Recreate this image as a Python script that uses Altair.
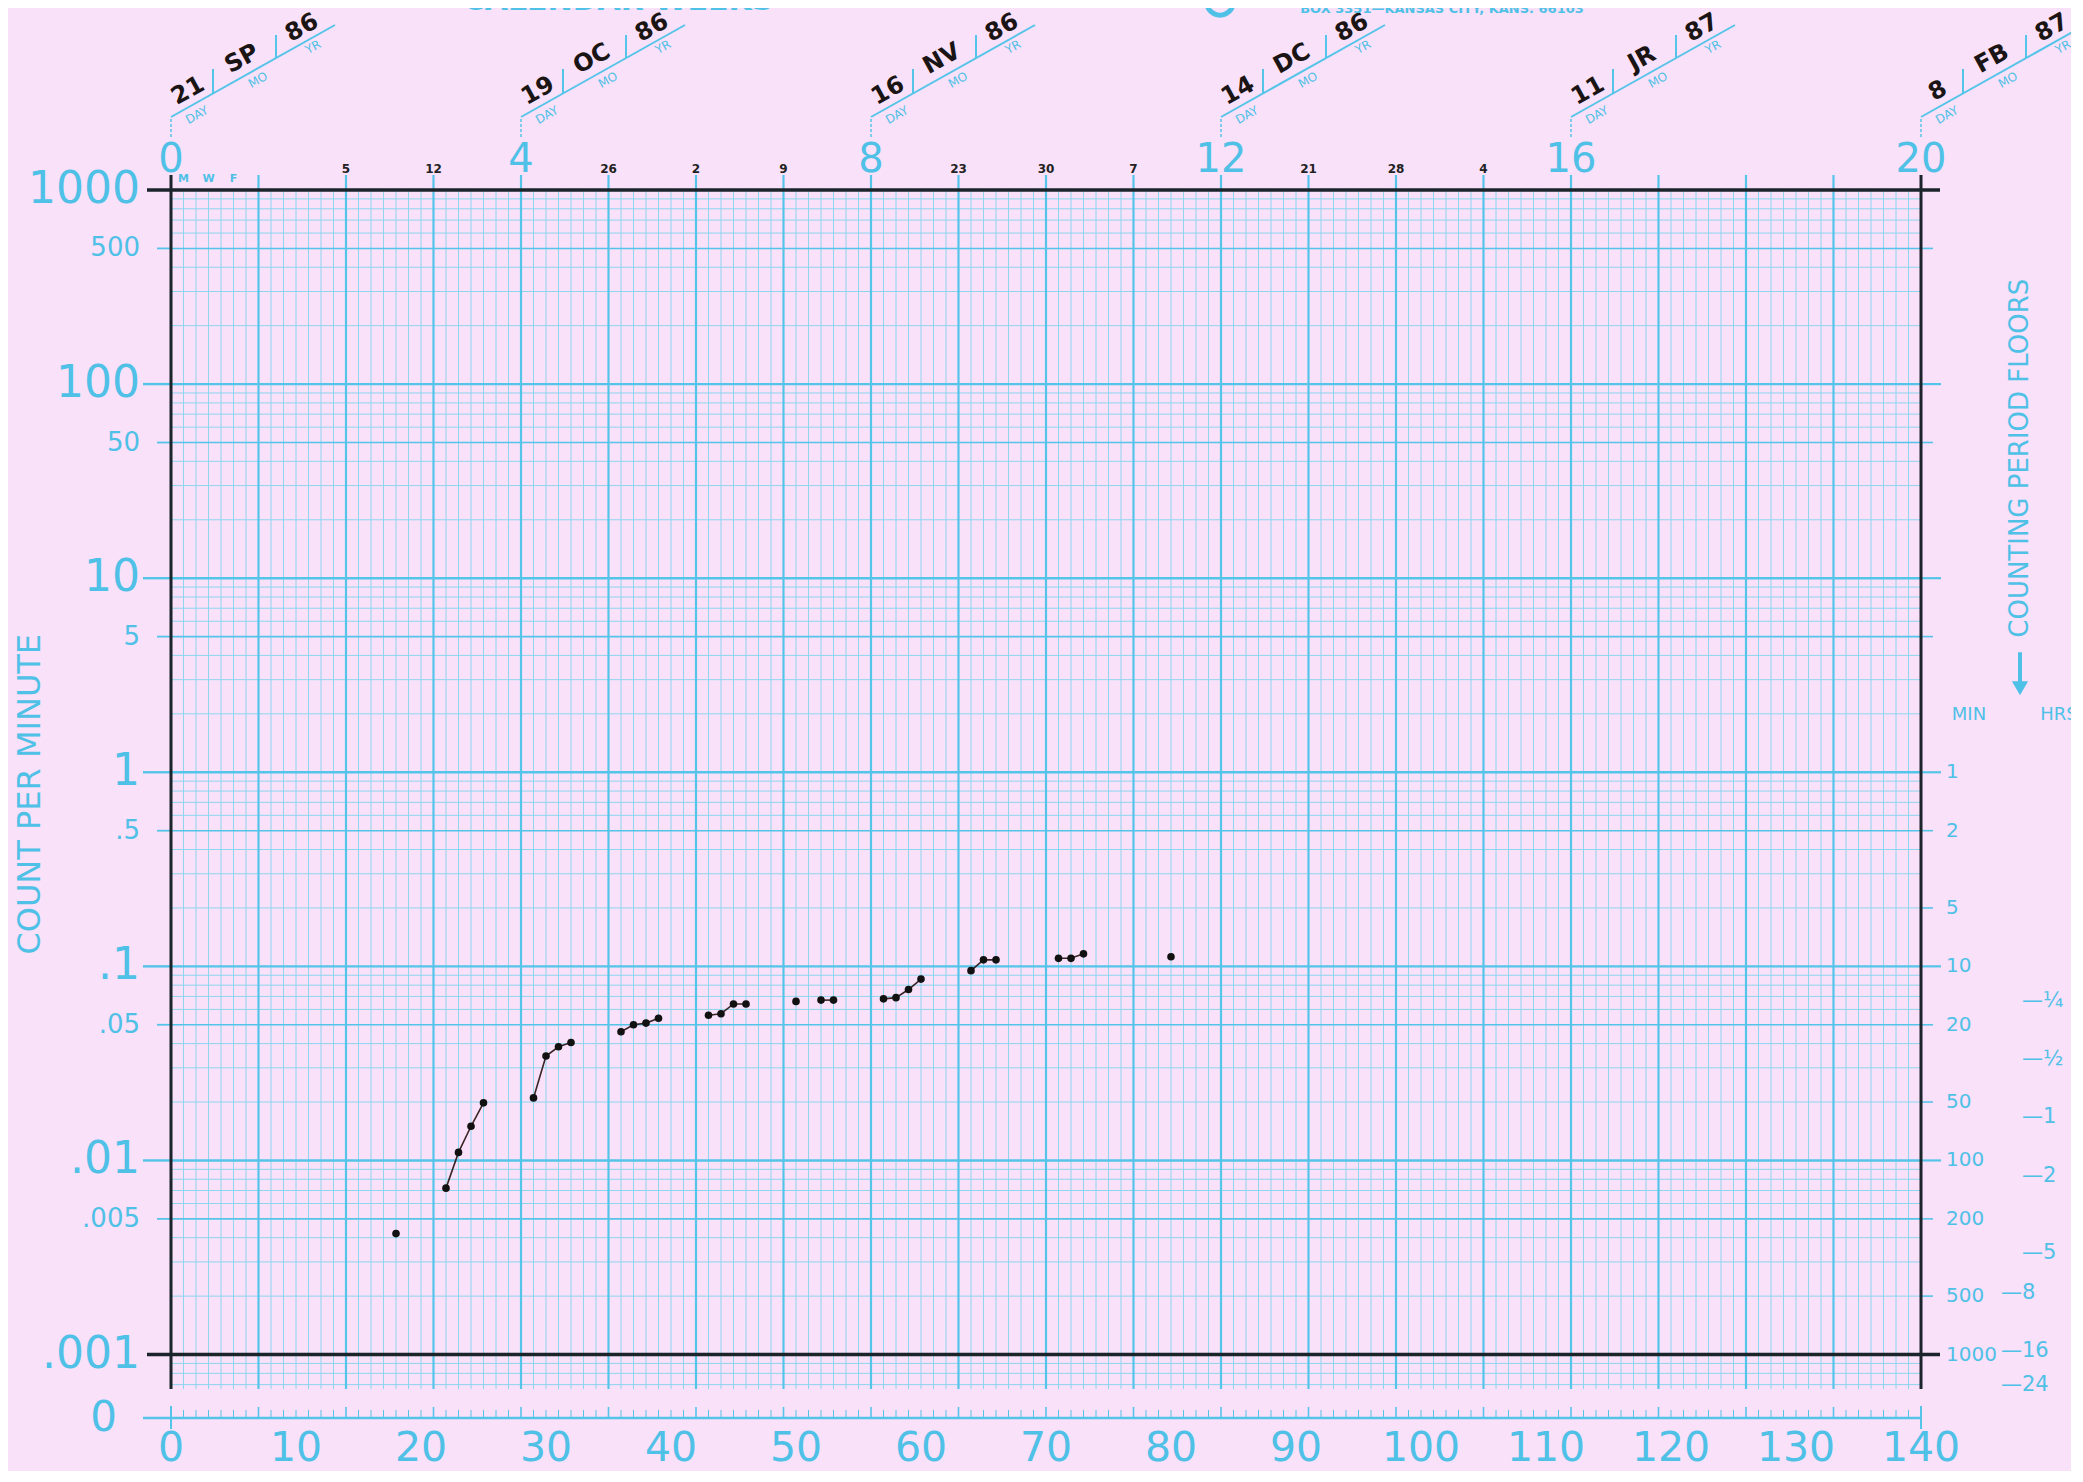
import altair as alt
import pandas as pd

# ------------------------------------------------------------------ data
# successive calendar days (day 0 = Sunday 21 SP 86) and count per minute
days = [18, 22, 23, 24, 25, 29, 30, 31, 32, 36, 37, 38, 39, 43, 44, 45, 46,
        50, 52, 53, 57, 58, 59, 60, 64, 65, 66, 71, 72, 73, 80]
counts = [0.0042, 0.0072, 0.011, 0.015, 0.0198, 0.021, 0.0345, 0.0385, 0.0405,
          0.046, 0.050, 0.051, 0.054, 0.056, 0.057, 0.064, 0.064,
          0.066, 0.067, 0.067, 0.068, 0.069, 0.076, 0.086,
          0.095, 0.108, 0.108, 0.110, 0.110, 0.116, 0.112]
runs = [1, 2, 2, 2, 2, 3, 3, 3, 3, 4, 4, 4, 4, 5, 5, 5, 5,
        6, 7, 7, 8, 8, 8, 8, 9, 9, 9, 10, 10, 10, 11]

week_numbers = [0, 4, 8, 12, 16, 20]
week_day = ["21", "19", "16", "14", "11", "8"]
week_month = ["SP", "OC", "NV", "DC", "JR", "FB"]
week_year = ["86", "86", "86", "86", "87", "87"]

sunday_days = [14, 21, 35, 42, 49, 63, 70, 77, 91, 98, 105]
sunday_dates = ["5", "12", "26", "2", "9", "23", "30", "7", "21", "28", "4"]

weekday_letters = ["M", "W", "F"]
weekday_days = [1, 3, 5]

left_values = [1000, 500, 100, 50, 10, 5, 1, 0.5, 0.1, 0.05, 0.01, 0.005, 0.001]
left_labels = ["1000", "500", "100", "50", "10", "5", "1", ".5", ".1", ".05", ".01", ".005", ".001"]
decade_values = [1000, 100, 10, 1, 0.1, 0.01, 0.001]
bottom_values = [0, 10, 20, 30, 40, 50, 60, 70, 80, 90, 100, 110, 120, 130, 140]

floor_min_labels = ["1", "2", "5", "10", "20", "50", "100", "200", "500", "1000"]
floor_min_minutes = [1, 2, 5, 10, 20, 50, 100, 200, 500, 1000]
floor_hr_labels = ["¼", "½", "1", "2", "5", "8", "16", "24"]
floor_hr_minutes = [15, 30, 60, 120, 300, 480, 960, 1440]

# ------------------------------------------------------------------ style
PINK = "#F9E1F9"
CYAN = "#55C4E9"
CYAN_LT = "#8CD6EF"
LABEL = "#4FC0E6"
INK = "#1B232B"
FONT = "DejaVu Sans"

Y_ZERO = 0.000471       # row where a count of zero is recorded
Y_GRID_BOTTOM = 0.000664
Y_TICK_TOP = 1195

XS = alt.Scale(domain=[0, 140], nice=False, zero=False)
YS = alt.Scale(type="log", domain=[Y_ZERO, 1000], nice=False)


def xq(f):
    return alt.X(f, type="quantitative", scale=XS, axis=None)


def yq(f):
    return alt.Y(f, type="quantitative", scale=YS, axis=None)


def xdat(v):
    return alt.XDatum(v, scale=XS, axis=None)


def ydat(v):
    return alt.YDatum(v, scale=YS, axis=None)


one = pd.DataFrame({"t": [""]})

# ------------------------------------------------------------------ grid
grid_days = pd.DataFrame({"day": list(range(1, 140))})
daily = grid_days[grid_days["day"] % 7 != 0]
weekly = grid_days[grid_days["day"] % 7 == 0]

daily_layer = alt.Chart(daily).mark_rule(color=CYAN_LT, strokeWidth=1).encode(
    x=xq("day"), y=ydat(Y_GRID_BOTTOM), y2=alt.Y2Datum(1000))
weekly_layer = alt.Chart(weekly).mark_rule(color=CYAN, strokeWidth=2.2).encode(
    x=xq("day"), y=ydat(Y_GRID_BOTTOM), y2=alt.Y2Datum(Y_TICK_TOP))

rows = []
for e in range(-4, 3):
    for m in range(1, 10):
        v = round(m * 10.0 ** e, 8)
        if Y_GRID_BOTTOM <= v <= 1000:
            rows.append({"v": v, "kind": "decade" if m == 1 else ("five" if m == 5 else "minor")})
hgrid = pd.DataFrame(rows)


def hlayer(kind, color, width):
    return alt.Chart(hgrid[hgrid["kind"] == kind]).mark_rule(color=color, strokeWidth=width).encode(
        y=yq("v"), x=xdat(0), x2=alt.X2Datum(140))


minor_h = hlayer("minor", CYAN_LT, 1)
five_h = hlayer("five", CYAN, 1.6)
decade_h = hlayer("decade", CYAN, 2.4)

# ------------------------------------------------------------------ zero row + bottom scale
zero_line = alt.Chart(one).mark_rule(color=CYAN, strokeWidth=2.5, xOffset=-28).encode(
    x=xdat(0), x2=alt.X2Datum(140), y=ydat(Y_ZERO))
zero_ticks_d = alt.Chart(daily).mark_rule(color=CYAN, strokeWidth=1, y2Offset=-8).encode(
    x=xq("day"), y=ydat(Y_ZERO), y2=alt.Y2Datum(Y_ZERO))
zero_ticks_w = alt.Chart(weekly).mark_rule(color=CYAN, strokeWidth=1.6, y2Offset=-11).encode(
    x=xq("day"), y=ydat(Y_ZERO), y2=alt.Y2Datum(Y_ZERO))
zero_ends = alt.Chart(pd.DataFrame({"day": [0, 140]})).mark_rule(
    color=CYAN, strokeWidth=2, yOffset=11, y2Offset=-12).encode(
    x=xq("day"), y=ydat(Y_ZERO), y2=alt.Y2Datum(Y_ZERO))
zero_label = alt.Chart(pd.DataFrame({"t": ["0"]})).mark_text(
    font=FONT, fontSize=42, color=LABEL, align="right", baseline="middle", xOffset=-54).encode(
    x=xdat(0), y=ydat(Y_ZERO), text="t:N")

bottom_df = pd.DataFrame({"v": bottom_values, "label": [str(b) for b in bottom_values]})
bottom_text = alt.Chart(bottom_df).mark_text(
    font=FONT, fontSize=41, color=LABEL, align="center", baseline="middle", yOffset=31).encode(
    x=xq("v"), y=ydat(Y_ZERO), text="label:N")

# ------------------------------------------------------------------ left scale
left_df = pd.DataFrame({"v": left_values, "label": left_labels})
left_df["decade"] = left_df["v"].isin(decade_values)
left_inner = left_df[~left_df["v"].isin([1000, 0.001])]

left_dec = alt.Chart(left_inner[left_inner["decade"]]).mark_rule(
    color=CYAN, strokeWidth=2.4, x2Offset=-28).encode(
    y=yq("v"), x=xdat(0), x2=alt.X2Datum(0))
left_five = alt.Chart(left_inner[~left_inner["decade"]]).mark_rule(
    color=CYAN, strokeWidth=1.8, x2Offset=-14).encode(
    y=yq("v"), x=xdat(0), x2=alt.X2Datum(0))
left_big_text = alt.Chart(left_df[left_df["decade"]]).mark_text(
    font=FONT, fontSize=44, color=LABEL, align="right", baseline="middle", xOffset=-31).encode(
    x=xdat(0), y=yq("v"), text="label:N")
left_small_text = alt.Chart(left_df[~left_df["decade"]]).mark_text(
    font=FONT, fontSize=26, color=LABEL, align="right", baseline="middle", xOffset=-31).encode(
    x=xdat(0), y=yq("v"), text="label:N")
left_title = alt.Chart(pd.DataFrame({"t": ["COUNT PER MINUTE"]})).mark_text(
    font=FONT, fontSize=32, color=LABEL, align="center", baseline="middle", angle=270,
    xOffset=-141, yOffset=22).encode(x=xdat(0), y=ydat(1), text="t:N")

# ------------------------------------------------------------------ right scale
min_df = pd.DataFrame({"label": floor_min_labels, "minutes": floor_min_minutes})
min_df["v"] = 1.0 / min_df["minutes"]
hr_df = pd.DataFrame({"label": ["\u2014" + s for s in floor_hr_labels], "minutes": floor_hr_minutes})
hr_df["v"] = 1.0 / hr_df["minutes"]

right_vals = [500, 100, 50, 10, 5] + [v for v in min_df["v"] if v > 0.0011]
right_df = pd.DataFrame({"v": right_vals})
right_df["decade"] = right_df["v"].apply(lambda v: any(abs(v - d) < 1e-9 for d in decade_values))
right_dec = alt.Chart(right_df[right_df["decade"]]).mark_rule(
    color=CYAN, strokeWidth=2.2, x2Offset=20).encode(
    y=yq("v"), x=xdat(140), x2=alt.X2Datum(140))
right_min = alt.Chart(right_df[~right_df["decade"]]).mark_rule(
    color=CYAN, strokeWidth=1.6, x2Offset=12).encode(
    y=yq("v"), x=xdat(140), x2=alt.X2Datum(140))

min_labels = alt.Chart(min_df).mark_text(
    font=FONT, fontSize=20, color=LABEL, align="left", baseline="middle", xOffset=25).encode(
    x=xdat(140), y=yq("v"), text="label:N")
hr_near = alt.Chart(hr_df[hr_df["minutes"] < 480]).mark_text(
    font=FONT, fontSize=21, color=LABEL, align="left", baseline="middle", xOffset=101).encode(
    x=xdat(140), y=yq("v"), text="label:N")
hr_far = alt.Chart(hr_df[hr_df["minutes"] >= 480]).mark_text(
    font=FONT, fontSize=21, color=LABEL, align="left", baseline="middle", xOffset=80).encode(
    x=xdat(140), y=yq("v"), text="label:N")

min_head = alt.Chart(pd.DataFrame({"t": ["MIN"]})).mark_text(
    font=FONT, fontSize=18, color=LABEL, align="center", baseline="middle",
    xOffset=48, yOffset=-57).encode(x=xdat(140), y=ydat(1), text="t:N")
hr_head = alt.Chart(pd.DataFrame({"t": ["HRS"]})).mark_text(
    font=FONT, fontSize=18, color=LABEL, align="center", baseline="middle",
    xOffset=138, yOffset=-57).encode(x=xdat(140), y=ydat(1), text="t:N")
floors_title = alt.Chart(pd.DataFrame({"t": ["COUNTING PERIOD FLOORS"]})).mark_text(
    font=FONT, fontSize=26, color=LABEL, align="center", baseline="middle", angle=270,
    xOffset=99, yOffset=-120).encode(x=xdat(140), y=ydat(10), text="t:N")
arrow_shaft = alt.Chart(one).mark_rule(
    color=LABEL, strokeWidth=4, xOffset=99, yOffset=-120, y2Offset=-88).encode(
    x=xdat(140), y=ydat(1), y2=alt.Y2Datum(1))
arrow_head = alt.Chart(one).mark_point(
    shape="triangle-down", filled=True, color=LABEL, size=260, opacity=1,
    xOffset=99, yOffset=-84).encode(x=xdat(140), y=ydat(1))

# ------------------------------------------------------------------ black frame
frame_h = alt.Chart(pd.DataFrame({"v": [1000, 0.001]})).mark_rule(
    color=INK, strokeWidth=3.5, xOffset=-24, x2Offset=19).encode(
    y=yq("v"), x=xdat(0), x2=alt.X2Datum(140))
frame_v = alt.Chart(pd.DataFrame({"day": [0, 140]})).mark_rule(
    color=INK, strokeWidth=3).encode(
    x=xq("day"), y=ydat(Y_GRID_BOTTOM), y2=alt.Y2Datum(Y_TICK_TOP))

# ------------------------------------------------------------------ calendar labels
wk = pd.DataFrame({"day": [w * 7 for w in week_numbers], "label": [str(w) for w in week_numbers],
                   "dd": week_day, "mo": week_month, "yr": week_year})
week_num_text = alt.Chart(wk).mark_text(
    font=FONT, fontSize=40, color=LABEL, align="center", baseline="middle", yOffset=-30).encode(
    x=xq("day"), y=ydat(1000), text="label:N")

sun = pd.DataFrame({"day": sunday_days, "label": sunday_dates})
sun_text = alt.Chart(sun).mark_text(
    font=FONT, fontSize=12, fontWeight="bold", color="#222222", align="center",
    baseline="middle", yOffset=-21).encode(x=xq("day"), y=ydat(1000), text="label:N")

mwf = pd.DataFrame({"day": weekday_days, "label": weekday_letters})
mwf_text = alt.Chart(mwf).mark_text(
    font=FONT, fontSize=11, fontWeight="bold", color=LABEL, align="center",
    baseline="middle", yOffset=-11).encode(x=xq("day"), y=ydat(1000), text="label:N")

bracket_v = alt.Chart(wk).mark_rule(
    color=CYAN, strokeWidth=1.5, strokeDash=[3, 2], yOffset=-53, y2Offset=-73).encode(
    x=xq("day"), y=ydat(1000), y2=alt.Y2Datum(1000))
bracket_d = alt.Chart(wk).mark_rule(
    color=CYAN, strokeWidth=2, yOffset=-73, x2Offset=164, y2Offset=-165).encode(
    x=xq("day"), x2=alt.X2("day:Q"), y=ydat(1000), y2=alt.Y2Datum(1000))
sep1 = alt.Chart(wk).mark_rule(
    color=CYAN, strokeWidth=2, xOffset=42, yOffset=-97, y2Offset=-121).encode(
    x=xq("day"), y=ydat(1000), y2=alt.Y2Datum(1000))
sep2 = alt.Chart(wk).mark_rule(
    color=CYAN, strokeWidth=2, xOffset=105, yOffset=-132, y2Offset=-155).encode(
    x=xq("day"), y=ydat(1000), y2=alt.Y2Datum(1000))


def rot_text(field, dx, dy, size, color, weight="normal"):
    return alt.Chart(wk).mark_text(
        font=FONT, fontSize=size, fontWeight=weight, color=color, angle=331,
        align="center", baseline="middle", xOffset=dx, yOffset=dy).encode(
        x=xq("day"), y=ydat(1000), text=f"{field}:N")


dd_text = rot_text("dd", 17, -99, 24, "#1A1414", "bold")
mo_text = rot_text("mo", 71, -131, 24, "#1A1414", "bold")
yr_text = rot_text("yr", 131, -162, 24, "#1A1414", "bold")

cap = pd.DataFrame({"day": [w * 7 for w in week_numbers]})


def cap_text(txt, dx, dy):
    return alt.Chart(cap).mark_text(
        font=FONT, fontSize=12, color=LABEL, angle=331, align="center", baseline="middle",
        xOffset=dx, yOffset=dy, text=txt).encode(x=xq("day"), y=ydat(1000))


day_cap = cap_text("DAY", 26, -75)
mo_cap = cap_text("MO", 87, -110)
yr_cap = cap_text("YR", 142, -143)

header1 = alt.Chart(pd.DataFrame({"t": ["CALENDAR WEEKS"]})).mark_text(
    font=FONT, fontSize=30, fontWeight="bold", color=LABEL, align="center",
    baseline="alphabetic").encode(x=alt.value(447), y=alt.value(-180), text="t:N")
header2 = alt.Chart(pd.DataFrame({"t": ["BOX 3351\u2014KANSAS CITY, KANS. 66103"]})).mark_text(
    font=FONT, fontSize=13, fontWeight="bold", color=LABEL, align="center",
    baseline="alphabetic").encode(x=alt.value(1271), y=alt.value(-177), text="t:N")
logo = alt.Chart(one).mark_point(
    shape="circle", size=700, color=LABEL, strokeWidth=5, filled=False, opacity=1).encode(
    x=alt.value(1049), y=alt.value(-188))

# ------------------------------------------------------------------ data marks
obs = pd.DataFrame({"day": days, "count": counts, "run": runs})
obs_line = alt.Chart(obs).mark_line(color="#3A2626", strokeWidth=1.6).encode(
    x=xq("day"), y=yq("count"), detail="run:N")
obs_pts = alt.Chart(obs).mark_circle(color="#111111", size=58, opacity=1).encode(
    x=xq("day"), y=yq("count"))

chart = alt.layer(
    daily_layer, minor_h, five_h, decade_h, weekly_layer,
    zero_line, zero_ticks_d, zero_ticks_w, zero_ends, zero_label, bottom_text,
    left_dec, left_five, left_big_text, left_small_text, left_title,
    right_dec, right_min,
    min_labels, hr_near, hr_far, min_head, hr_head, floors_title, arrow_shaft, arrow_head,
    frame_h, frame_v,
    week_num_text, sun_text, mwf_text,
    bracket_v, bracket_d, sep1, sep2, dd_text, mo_text, yr_text, day_cap, mo_cap, yr_cap,
    header1, header2, logo,
    obs_line, obs_pts,
).properties(
    width=1750, height=1228,
    autosize=alt.AutoSizeParams(type="none"),
    padding={"left": 163, "top": 182, "right": 150, "bottom": 53},
    background=PINK,
).configure_view(stroke=None)

chart.save("out.html", embed_options={"renderer": "svg", "actions": False})
